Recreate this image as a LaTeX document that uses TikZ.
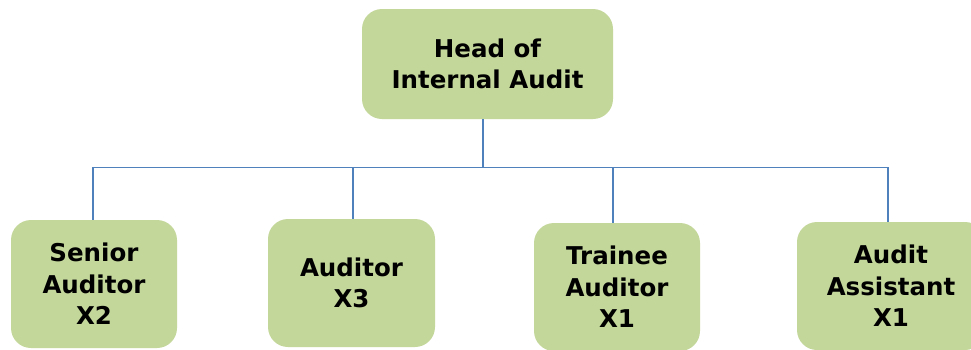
\documentclass[tikz,border=0pt]{standalone}
\usepackage{fontspec}
\setmainfont{DejaVu Sans}
\definecolor{boxgreen}{HTML}{C4D79B}
\definecolor{linkblue}{HTML}{4F81BD}
\begin{document}
\begin{tikzpicture}[x=1pt,y=-1pt,
  rolebox/.style={draw=none,fill=boxgreen,rounded corners=20pt,align=center,
    font=\fontsize{24.5}{31.5}\selectfont\bfseries,text=black,inner sep=0pt},
  link/.style={draw=linkblue,line width=1.8pt}]
\clip (0,0) rectangle (971,349);
\useasboundingbox (0,0) rectangle (971,349);
\node[rolebox,minimum width=251pt,minimum height=110pt] (head) at (487.5,64) {Head of\\Internal Audit};
\node[rolebox,minimum width=166pt,minimum height=128pt] (sen) at (94,284) {Senior\\Auditor\\X2};
\node[rolebox,minimum width=167pt,minimum height=128pt] (aud) at (351.5,283) {Auditor\\X3};
\node[rolebox,minimum width=166pt,minimum height=128pt] (tra) at (617,287) {Trainee\\Auditor\\X1};
\node[rolebox,minimum width=188pt,minimum height=128pt] (ast) at (891,286) {Audit\\Assistant\\X1};
\coordinate (j0) at (483,167.5);
\coordinate (j1) at (93,167.5);
\coordinate (j2) at (353,167.5);
\coordinate (j3) at (613,167.5);
\coordinate (j4) at (888,167.5);
\draw[link] (head.south -| j0) -- (j0);
\draw[link] (sen.north -| j1) -- (j1) -- (j4) -- (ast.north -| j4);
\draw[link] (j2) -- (aud.north -| j2);
\draw[link] (j3) -- (tra.north -| j3);
\end{tikzpicture}
\end{document}
